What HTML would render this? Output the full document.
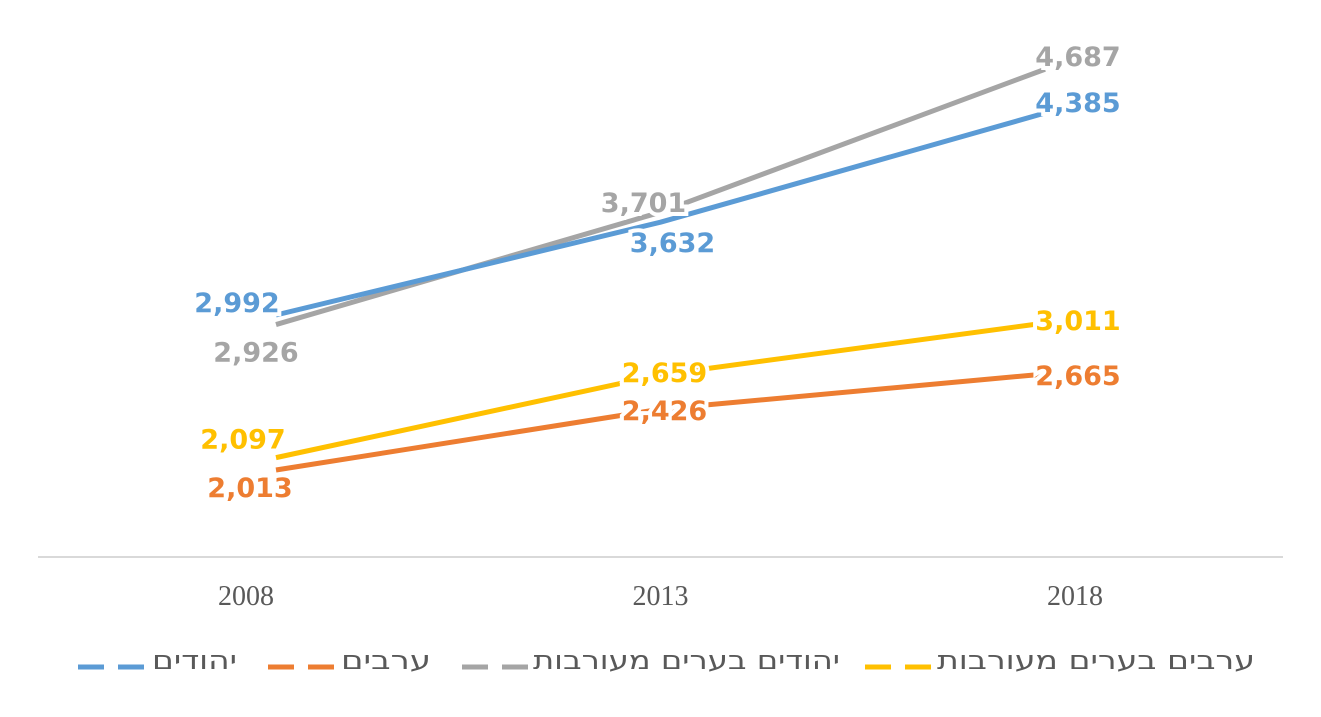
<!DOCTYPE html>
<html><head><meta charset="utf-8"><style>
body{margin:0;background:#fff;width:1321px;height:717px;overflow:hidden;font-family:"Liberation Sans",sans-serif}
svg{position:absolute;left:0;top:0}
.lg{position:absolute;top:646px;font-family:"DejaVu Sans","Liberation Sans",sans-serif;font-size:26px;color:#595959;white-space:nowrap;transform-origin:left top}
</style></head><body>
<svg id="chart" width="1321" height="717"></svg>
<div>
<svg style="top:652px" width="1321" height="30">
<line x1="78" y1="15" x2="145" y2="15" stroke="#5b9bd5" stroke-width="5" stroke-dasharray="26,14"/>
<line x1="268" y1="15" x2="335" y2="15" stroke="#ed7d31" stroke-width="5" stroke-dasharray="26,14"/>
<line x1="462" y1="15" x2="528" y2="15" stroke="#a5a5a5" stroke-width="5" stroke-dasharray="26,14"/>
<line x1="865" y1="15" x2="931" y2="15" stroke="#ffc000" stroke-width="5" stroke-dasharray="26,14"/>
</svg>
<span class="lg" id="l1" style="left:152px">יהודים</span>
<span class="lg" id="l2" style="left:341px">ערבים</span>
<span class="lg" id="l3" style="left:533px">יהודים בערים מעורבות</span>
<span class="lg" id="l4" style="left:937px">ערבים בערים מעורבות</span>
</div>
<script>
const categories = ["2008","2013","2018"];
const jews = [2992,3632,4385];
const arabs = [2013,2426,2665];
const jewsMixed = [2926,3701,4687];
const arabsMixed = [2097,2659,3011];
const svg = document.getElementById('chart');
const NS = 'http://www.w3.org/2000/svg';
function x(i){ return 276 + i*384.5; }
function tickX(i){ return 246 + i*414.5; }
function yPrimary(v){ return 315 - (v - 2992)*0.145; }
function ySecondary(v){ return 470 - (v - 2013)*0.1473; }
function mk(t,a){ const e=document.createElementNS(NS,t); for(const k in a) e.setAttribute(k,a[k]); svg.appendChild(e); return e; }
const axis = mk('line',{x1:38,y1:557,x2:1283,y2:557,stroke:'#d9d9d9','stroke-width':2});


categories.forEach((c,i)=>{
  const t = mk('text',{x:tickX(i),y:605,'text-anchor':'middle','font-family':'Liberation Serif, serif','font-size':28,fill:'#595959'});
  t.textContent = c;
  
  
});
const series = [
  {name:'jews-mixed', vals:jewsMixed, y:yPrimary, color:'#a5a5a5', off:[[-20,27],[-17,-10],[33,-13]]},
  {name:'jews', vals:jews, y:yPrimary, color:'#5b9bd5', off:[[-39,-13],[12,20],[33,-11]]},
  {name:'arabs-mixed', vals:arabsMixed, y:ySecondary, color:'#ffc000', off:[[-33,-19],[4,-3],[33,-3]]},
  {name:'arabs', vals:arabs, y:ySecondary, color:'#ed7d31', off:[[-26,17],[4,1],[33,1]]}
];
series.forEach(s=>{
  const pts = s.vals.map((v,i)=>x(i)+','+s.y(v)).join(' ');
  const pl = mk('polyline',{points:pts,fill:'none',stroke:s.color,'stroke-width':5,'stroke-linejoin':'round'});
  
  
});
series.forEach(s=>{
  s.vals.forEach((v,i)=>{
    const t = mk('text',{x:x(i)+s.off[i][0],y:s.y(v)+s.off[i][1]+10,'text-anchor':'middle','font-family':'DejaVu Sans, sans-serif','font-weight':'bold','font-size':27,fill:s.color,stroke:'#fff','stroke-width':8,'paint-order':'stroke'});
    t.textContent = v.toLocaleString('en-US');
    
    
  });
});
// stretch legend texts to match target widths
[['l1',85],['l2',90],['l3',307],['l4',318]].forEach(([id,w])=>{
  const el=document.getElementById(id);
  const cw=el.getBoundingClientRect().width;
  if(cw>0) el.style.transform='scaleX('+(w/cw)+')';
});
</script>
</body></html>
